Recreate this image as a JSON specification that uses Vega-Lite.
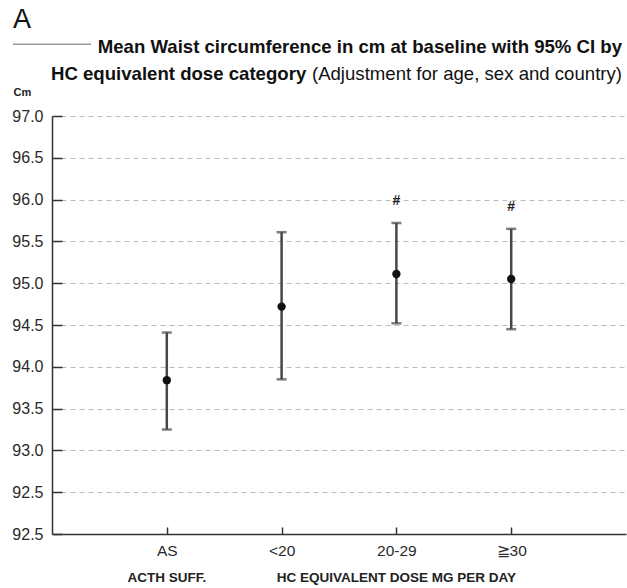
{
  "$schema": "https://vega.github.io/schema/vega-lite/v6.json",
  "width": 574,
  "height": 418,
  "autosize": {"type": "none"},
  "padding": {"left": 52, "top": 116, "right": 1, "bottom": 54},
  "background": "white",
  "config": {"view": {"stroke": null}, "font": "Liberation Sans", "text": {"font": "Liberation Sans"}},
  "data": {"values": [
    {"pos": 1, "group": "AS", "mean": 93.84, "lo": 93.25, "hi": 94.41, "sig": ""},
    {"pos": 2, "group": "<20", "mean": 94.72, "lo": 93.85, "hi": 95.61, "sig": ""},
    {"pos": 3, "group": "20-29", "mean": 95.11, "lo": 94.52, "hi": 95.72, "sig": "#"},
    {"pos": 4, "group": "≧30", "mean": 95.05, "lo": 94.45, "hi": 95.65, "sig": "#"}
  ]},
  "layer": [
    {
      "mark": {"type": "errorbar", "thickness": 2.5, "color": "#474747", "ticks": {"size": 10, "thickness": 2.5, "color": "#474747"}},
      "encoding": {
        "x": {"field": "pos", "type": "quantitative", "scale": {"domain": [0, 5], "nice": false, "zero": false},
          "axis": {"values": [1, 2, 3, 4], "labelExpr": "datum.value==1?'AS':datum.value==2?'<20':datum.value==3?'20-29':'≧30'",
            "title": null, "grid": false, "domainColor": "#333", "domainWidth": 1.5, "tickColor": "#333", "tickWidth": 1.5,
            "tickSize": -7, "labelPadding": 16, "labelFontSize": 15.5, "labelColor": "#2a2a2a", "labelFont": "Liberation Sans"}},
        "y": {"field": "lo", "type": "quantitative", "scale": {"domain": [92, 97], "nice": false, "zero": false},
          "axis": {"values": [92, 92.5, 93, 93.5, 94, 94.5, 95, 95.5, 96, 96.5, 97],
            "labelExpr": "datum.value==92?'92.5':format(datum.value,'.1f')",
            "title": "Cm", "titleAngle": 0, "titleAlign": "left", "titleBaseline": "alphabetic", "titleX": -39, "titleY": -21,
            "titleFontSize": 11, "titleFontWeight": "bold", "titleColor": "#222", "titleFont": "Liberation Sans",
            "grid": true, "gridDash": [5, 4], "gridColor": "#bbb", "gridWidth": 1,
            "domainColor": "#333", "domainWidth": 1.5, "tickColor": "#333", "tickWidth": 1.5, "tickSize": -10,
            "labelPadding": 19, "labelFontSize": 16, "labelColor": "#2a2a2a", "labelFont": "Liberation Sans"}},
        "y2": {"field": "hi"}
      }
    },
    {
      "mark": {"type": "point", "filled": true, "size": 70, "color": "#111", "opacity": 1},
      "encoding": {
        "x": {"field": "pos", "type": "quantitative"},
        "y": {"field": "mean", "type": "quantitative"}
      }
    },
    {
      "mark": {"type": "text", "dy": -22, "baseline": "middle", "align": "center", "fontSize": 14, "fontWeight": "bold", "color": "#222"},
      "encoding": {
        "x": {"field": "pos", "type": "quantitative"},
        "y": {"field": "hi", "type": "quantitative"},
        "text": {"field": "sig"}
      }
    },
    {
      "data": {"values": [{"t": "A"}]},
      "mark": {"type": "text", "align": "left", "baseline": "alphabetic", "fontSize": 27, "color": "#111"},
      "encoding": {"x": {"datum": -0.34, "type": "quantitative"}, "y": {"datum": 98.049, "type": "quantitative"}, "text": {"field": "t"}}
    },
    {
      "data": {"values": [{"t": "line"}]},
      "mark": {"type": "rule", "color": "#999", "strokeWidth": 1.3},
      "encoding": {"x": {"datum": -0.34, "type": "quantitative"}, "x2": {"datum": 0.34}, "y": {"datum": 97.858, "type": "quantitative"}}
    },
    {
      "data": {"values": [{"t": "Mean Waist circumference in cm at baseline with 95% CI by"}]},
      "mark": {"type": "text", "align": "right", "baseline": "alphabetic", "dx": -4, "fontSize": 18.6, "fontWeight": "bold", "color": "#111"},
      "encoding": {"x": {"datum": 5, "type": "quantitative"}, "y": {"datum": 97.75, "type": "quantitative"}, "text": {"field": "t"}}
    },
    {
      "data": {"values": [{"t": "HC equivalent dose category"}]},
      "mark": {"type": "text", "align": "left", "baseline": "alphabetic", "dx": -1, "fontSize": 18.6, "fontWeight": "bold", "color": "#111"},
      "encoding": {"x": {"datum": 0, "type": "quantitative"}, "y": {"datum": 97.431, "type": "quantitative"}, "text": {"field": "t"}}
    },
    {
      "data": {"values": [{"t": "(Adjustment for age, sex and country)"}]},
      "mark": {"type": "text", "align": "right", "baseline": "alphabetic", "dx": -4, "fontSize": 18.6, "fontWeight": "normal", "color": "#111"},
      "encoding": {"x": {"datum": 5, "type": "quantitative"}, "y": {"datum": 97.431, "type": "quantitative"}, "text": {"field": "t"}}
    },
    {
      "data": {"values": [{"t": "ACTH SUFF.", "p": 1}, {"t": "HC EQUIVALENT DOSE MG PER DAY", "p": 3}]},
      "mark": {"type": "text", "align": "center", "baseline": "alphabetic", "fontSize": 13.5, "fontWeight": "bold", "color": "#222"},
      "encoding": {"x": {"field": "p", "type": "quantitative"}, "y": {"datum": 91.426, "type": "quantitative"}, "text": {"field": "t"}}
    }
  ]
}
